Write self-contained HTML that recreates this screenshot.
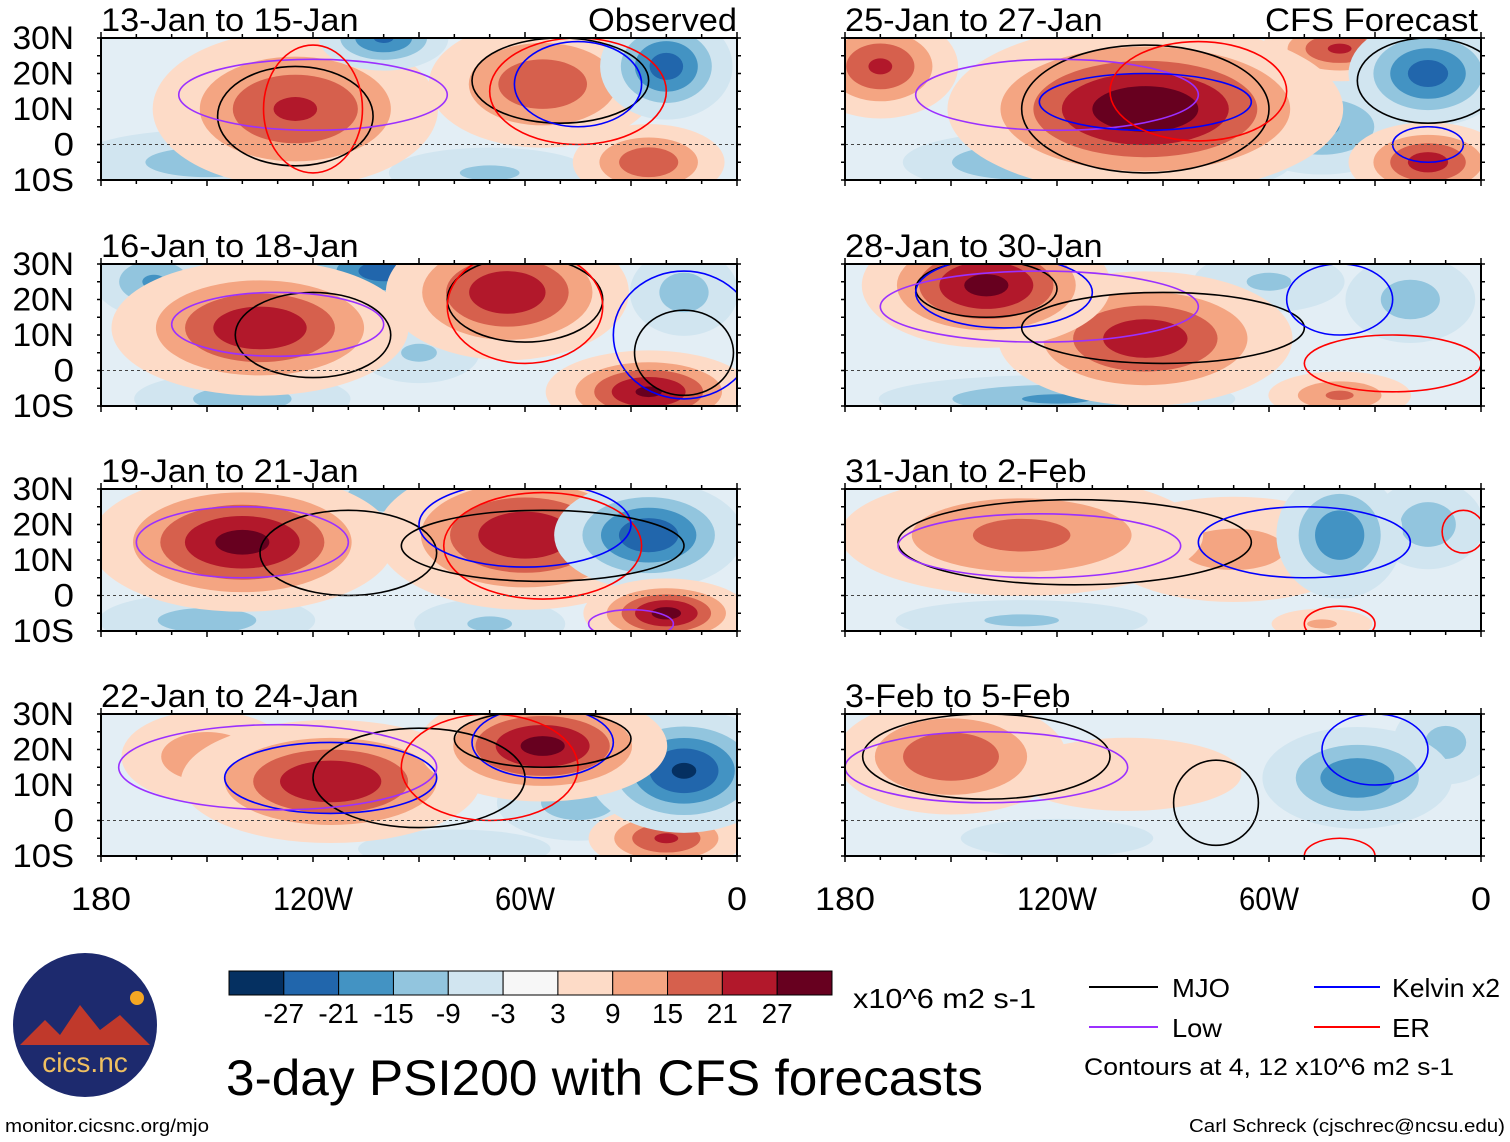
<!DOCTYPE html>
<html><head><meta charset="utf-8">
<style>
html,body{margin:0;padding:0;background:#fff;}
svg{display:block;font-family:"Liberation Sans",Arial,sans-serif;}
</style></head>
<body>
<svg id="fig" width="1510" height="1142" viewBox="0 0 1510 1142" xmlns="http://www.w3.org/2000/svg">
<defs id="defs"></defs>
<g id="panels"></g>
<g id="axes-labels"></g>
<g id="colorbar"></g>
<g>
  <circle cx="85" cy="1025" r="72" fill="#1d2a6e"/>
  <path d="M20 1045 L45 1020 L60 1035 L80 1005 L100 1030 L120 1015 L150 1045 Z" fill="#c0392b"/>
  <circle cx="137" cy="998" r="7" fill="#f5a623"/>
  <text x="85" y="1072" text-anchor="middle" font-size="28" fill="#f0c060">cics.nc</text>
</g>
<text x="5" y="1132" font-size="18" textLength="204" lengthAdjust="spacingAndGlyphs" fill="#000">monitor.cicsnc.org/mjo</text>
<text x="226" y="1095" font-size="50" textLength="757" lengthAdjust="spacingAndGlyphs" fill="#000">3-day PSI200 with CFS forecasts</text>
<text x="853" y="1008" font-size="28" textLength="183" lengthAdjust="spacingAndGlyphs" fill="#000">x10^6 m2 s-1</text>
<g>
  <line x1="1089" y1="987" x2="1158" y2="987" stroke="#000" stroke-width="2"/>
  <text x="1172" y="997" font-size="26" textLength="58" lengthAdjust="spacingAndGlyphs">MJO</text>
  <line x1="1314" y1="987" x2="1380" y2="987" stroke="#0000ff" stroke-width="2"/>
  <text x="1392" y="997" font-size="26" textLength="108" lengthAdjust="spacingAndGlyphs">Kelvin x2</text>
  <line x1="1089" y1="1027" x2="1158" y2="1027" stroke="#9b30ff" stroke-width="2"/>
  <text x="1172" y="1037" font-size="26" textLength="50" lengthAdjust="spacingAndGlyphs">Low</text>
  <line x1="1314" y1="1027" x2="1380" y2="1027" stroke="#ff0000" stroke-width="2"/>
  <text x="1392" y="1037" font-size="26" textLength="38" lengthAdjust="spacingAndGlyphs">ER</text>
  <text x="1084" y="1075" font-size="24" textLength="370" lengthAdjust="spacingAndGlyphs">Contours at 4, 12 x10^6 m2 s-1</text>
</g>
<text x="1505" y="1132" font-size="18" text-anchor="end" textLength="316" lengthAdjust="spacingAndGlyphs">Carl Schreck (cjschrec@ncsu.edu)</text>
</svg>
<script>
const NS="http://www.w3.org/2000/svg";
const levels=[-27,-21,-15,-9,-3,3,9,15,21,27];
const levelColors=["#053061","#2166ac","#4393c3","#92c5de","#d1e5f0","#f7f7f7","#fddbc7","#f4a582","#d6604d","#b2182b","#67001f"];
const panelTitles=["13-Jan to 15-Jan","16-Jan to 18-Jan","19-Jan to 21-Jan","22-Jan to 24-Jan","25-Jan to 27-Jan","28-Jan to 30-Jan","31-Jan to 2-Feb","3-Feb to 5-Feb"];
const latTicks=[30,20,10,0,-10];
const latLabels=["30N","20N","10N","0","10S"];
const lonTicks=[-180,-120,-60,0];
const lonLabels=["180","120W","60W","0"];
// blobs: [lon, lat, sigmaLon, sigmaLat, amplitude]
const blobs1=[[-125,10,22,12,22],[-55,17,18,10,20],[-20,22,10,8,-24],[-100,30,10,5,-22],[-25,-5,12,6,20],[-150,-5,25,6,-12],[-70,-8,20,5,-10]];
const blobs2=[[-135,12,22,10,26],[-65,22,18,10,26],[-100,28,15,6,-24],[-165,25,10,6,-16],[-25,-6,15,6,28],[-15,22,10,8,-12],[-140,-8,20,5,-12],[-90,5,12,6,-10]];
const blobs3=[[-140,15,22,10,29],[-60,17,22,11,26],[-25,17,14,8,-26],[-100,28,12,5,-14],[-20,-5,12,5,29],[-150,-7,20,5,-12],[-70,-8,15,5,-10]];
const blobs4=[[-115,11,22,9,27],[-55,21,18,8,29],[-150,18,15,8,14],[-15,14,14,9,-28],[-45,5,15,7,-12],[-20,-5,12,5,22],[-80,-8,20,4,-9]];
const blobs5=[[-95,10,28,12,32],[-170,22,12,8,22],[-40,27,12,5,22],[-15,20,12,8,-24],[-45,5,15,8,-16],[-15,-5,12,6,24],[-130,-5,20,5,-16],[-75,-5,15,5,-10]];
const blobs6=[[-140,24,18,9,29],[-95,9,22,10,25],[-60,25,15,6,-10],[-20,20,12,8,-12],[-120,-8,30,4,-16],[-40,-7,12,4,16]];
const blobs7=[[-130,17,30,10,17],[-70,13,25,10,11],[-40,17,10,10,-20],[-15,20,10,8,-13],[-130,-7,25,4,-10],[-45,-8,10,3,10]];
const blobs8=[[-150,18,18,9,21],[-100,13,25,8,8],[-35,12,15,8,-20],[-10,22,10,8,-11],[-120,-5,20,4,-9]];
// contours: [type, lon, lat, radiusLon, radiusLat]
const lines1=[["mjo",-125,8,22,14],["mjo",-50,18,25,12],["low",-120,14,38,10],["er",-120,10,14,18],["kelvin",-45,17,18,12],["er",-45,15,25,15]];
const lines2=[["mjo",-120,10,22,12],["mjo",-60,20,22,12],["low",-130,13,30,9],["er",-60,18,22,16],["kelvin",-15,10,20,18],["mjo",-15,5,14,12]];
const lines3=[["mjo",-110,12,25,12],["low",-140,15,30,10],["er",-55,14,28,15],["kelvin",-60,20,30,12],["mjo",-55,14,40,10],["low",-30,-8,12,4]];
const lines4=[["mjo",-90,12,30,14],["kelvin",-115,12,30,10],["low",-130,15,45,12],["er",-70,15,25,15],["kelvin",-55,22,20,10],["mjo",-55,23,25,8]];
const lines5=[["mjo",-95,10,35,18],["low",-120,14,40,10],["kelvin",-95,12,30,8],["er",-80,15,25,14],["mjo",-15,18,20,12],["kelvin",-15,0,10,5]];
const lines6=[["mjo",-140,23,20,8],["kelvin",-135,22,25,10],["low",-125,18,45,10],["mjo",-90,12,40,10],["kelvin",-40,20,15,10],["er",-25,2,25,8]];
const lines7=[["mjo",-115,15,50,12],["low",-125,14,40,9],["kelvin",-50,15,30,10],["er",-5,18,6,6],["er",-40,-8,10,5]];
const lines8=[["mjo",-140,18,35,12],["low",-140,15,40,10],["kelvin",-30,20,15,10],["mjo",-75,5,12,12],["er",-40,-10,10,5]];
const allBlobs=[blobs1,blobs2,blobs3,blobs4,blobs5,blobs6,blobs7,blobs8];
const allLines=[lines1,lines2,lines3,lines4,lines5,lines6,lines7,lines8];
const lineColors={mjo:"#000000",low:"#9b30ff",kelvin:"#0000ff",er:"#ff0000"};

const PW=636,PH=142,SPREAD=1.3;
const colX=[101,845],rowY=[38,264,489,714];
function xScale(px,lon){return px+(lon+180)/180*PW;}
function yScale(py,lat){return py+(30-lat)/40*PH;}
function mk(tag,attrs,parent){const e=document.createElementNS(NS,tag);for(const k in attrs)e.setAttribute(k,attrs[k]);parent.appendChild(e);return e;}

const gP=document.getElementById("panels"),defs=document.getElementById("defs"),gL=document.getElementById("axes-labels");
for(let i=0;i<8;i++){
  const col=i<4?0:1,row=i%4,px=colX[col],py=rowY[row];
  const g=mk("g",{},gP);
  
  
  const cp=mk("clipPath",{id:"cp"+i},defs);
  mk("rect",{x:px,y:py,width:PW,height:PH},cp);
  const field=mk("g",{"clip-path":"url(#cp"+i+")"},g);
  const bg=mk("rect",{x:px,y:py,width:PW,height:PH,fill:"#e3eef5"},field);
  
  
  const bl=allBlobs[i].slice().sort((a,b)=>Math.abs(a[4])-Math.abs(b[4]));
  for(const b of bl){
    const [lon,lat,sl,sa,A]=b;const s=Math.sign(A),aa=Math.abs(A);
    const th=[3,9,15,21,27];
    for(let k=0;k<th.length;k++){
      const t=th[k];if(aa<=t)break;
      const f=Math.sqrt(Math.log(aa/t))*SPREAD;
      const cIdx=s>0?6+k:4-k;
      const e=mk("ellipse",{cx:xScale(px,lon),cy:yScale(py,lat),rx:sl*f*PW/180,ry:sa*f*PH/40,fill:levelColors[cIdx]},field);
      
      
    }
  }
  for(const c of allLines[i]){
    const e=mk("ellipse",{cx:xScale(px,c[1]),cy:yScale(py,c[2]),rx:c[3]*PW/180,ry:c[4]*PH/40,fill:"none",stroke:lineColors[c[0]],"stroke-width":1.6},field);
    
    
  }
  const eq=mk("line",{x1:px,x2:px+PW,y1:yScale(py,0),y2:yScale(py,0),stroke:"#444","stroke-dasharray":"3,3","stroke-width":1},g);
  
  
  const fr=mk("rect",{x:px,y:py,width:PW,height:PH,fill:"none",stroke:"#000","stroke-width":2},g);
  
  
  for(let lon=-180;lon<=0;lon+=10){
    const x=xScale(px,lon),L=lon%30===0?6:4;
    mk("line",{x1:x,x2:x,y1:py,y2:py-L,stroke:"#000","stroke-width":1.5},g);
    mk("line",{x1:x,x2:x,y1:py+PH,y2:py+PH+L,stroke:"#000","stroke-width":1.5},g);
  }
  for(let lat=-10;lat<=30;lat+=5){
    const y=yScale(py,lat);
    mk("line",{x1:px,x2:px-4,y1:y,y2:y,stroke:"#000","stroke-width":1.5},g);
    mk("line",{x1:px+PW,x2:px+PW+4,y1:y,y2:y,stroke:"#000","stroke-width":1.5},g);
  }
  const tl=panelTitles[i].length*16.1;
  const t=mk("text",{x:px,y:py-7,"font-size":32,textLength:tl,lengthAdjust:"spacingAndGlyphs"},g);t.textContent=panelTitles[i];
  
  
  if(col===0){
    latTicks.forEach((lat,j)=>{const tx=mk("text",{x:74,y:yScale(py,lat)+11,"font-size":32,"text-anchor":"end",textLength:latLabels[j].length*20.5,lengthAdjust:"spacingAndGlyphs"},gL);tx.textContent=latLabels[j];
      
      });
  }
}
const o=mk("text",{x:737,y:31,"font-size":32,"text-anchor":"end",textLength:149,lengthAdjust:"spacingAndGlyphs"},gL);o.textContent="Observed";


const f=mk("text",{x:1478,y:31,"font-size":32,"text-anchor":"end",textLength:213,lengthAdjust:"spacingAndGlyphs"},gL);f.textContent="CFS Forecast";


colX.forEach(px=>{lonTicks.forEach((lon,j)=>{const tx=mk("text",{x:xScale(px,lon),y:910,"font-size":32,"text-anchor":"middle",textLength:lonLabels[j].length*20,lengthAdjust:"spacingAndGlyphs"},gL);tx.textContent=lonLabels[j];
  
  });});

const gC=document.getElementById("colorbar");
const cbX=229,cbW=603,cbY=971,cbH=24,bw=cbW/11;
levelColors.forEach((c,k)=>{const r=mk("rect",{x:cbX+k*bw,y:cbY,width:bw,height:cbH,fill:c,stroke:"#000","stroke-width":1},gC);
  
  });
levels.forEach((v,k)=>{const t=mk("text",{x:cbX+(k+1)*bw,y:1023,"font-size":28,"text-anchor":"middle"},gC);t.textContent=String(v);
  
  });
</script>
</body></html>
